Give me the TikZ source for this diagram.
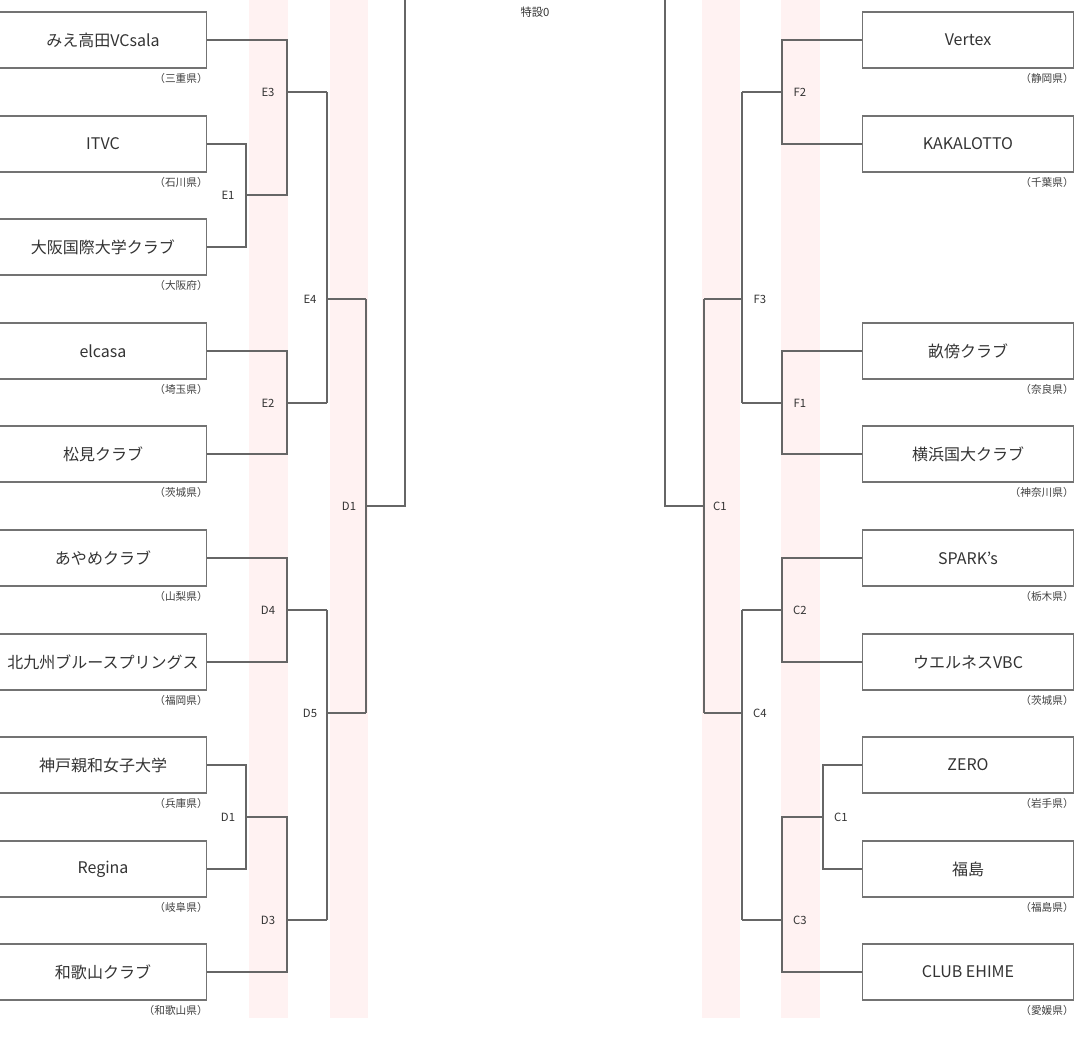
\documentclass[tikz,border=0pt]{standalone}
\usepackage{fontspec}
\setmainfont{Noto Sans CJK JP}
\begin{document}
\begin{tikzpicture}[x=0.75pt,y=-0.75pt,
 team/.style={draw=black!55,line width=0.8pt,minimum width=207*0.75pt,minimum height=56*0.75pt,inner sep=0pt,font=\fontsize{12}{14}\selectfont,text=black!80},
 pref/.style={font=\fontsize{8}{9}\selectfont,text=black!75,anchor=east,inner sep=0pt},
 lab/.style={font=\fontsize{8.5}{10}\selectfont,text=black!80,inner sep=0pt},
 br/.style={draw=black!60,line width=1.4pt}]
\useasboundingbox (0,0) rectangle (1075,1058);
\fill[red!5] (249,0) rectangle (288,1018);
\fill[red!5] (330,0) rectangle (368,1018);
\fill[red!5] (702,0) rectangle (740,1018);
\fill[red!5] (781,0) rectangle (820,1018);
\node[lab] (toku) at (535,12) {特設0};
% left teams
\foreach \n/\y/\t/\p in {L1/40/みえ高田VCsala/（三重県）,L2/144/ITVC/（石川県）,L3/247/大阪国際大学クラブ/（大阪府）,L4/351/elcasa/（埼玉県）,L5/454/松見クラブ/（茨城県）,L6/558/あやめクラブ/（山梨県）,L7/662/北九州ブルースプリングス/（福岡県）,L8/765/神戸親和女子大学/（兵庫県）,L9/869/Regina/（岐阜県）,L10/972/和歌山クラブ/（和歌山県）}{
 \node[team] (\n) at (103,\y) {\t};
 \node[pref] (\n p) at (208,\y+38) {\p};
}
\foreach \n/\y/\t/\p in {R1/40/Vertex/（静岡県）,R2/144/KAKALOTTO/（千葉県）,R3/351/畝傍クラブ/（奈良県）,R4/454/横浜国大クラブ/（神奈川県）,R5/558/SPARK's/（栃木県）,R6/662/ウエルネスVBC/（茨城県）,R7/765/ZERO/（岩手県）,R8/869/福島/（福島県）,R9/972/CLUB EHIME/（愛媛県）}{
 \node[team,minimum width=211*0.75pt] (\n) at (968,\y) {\t};
 \node[pref] (\n p) at (1074,\y+38) {\p};
}
\foreach \n/\x/\y/\t in {e3/268/92/E3,e1/228/195/E1,e2/268/403/E2,e4/310/299/E4,d4/268/610/D4,d1a/228/817/D1,d3/268/920/D3,d5/310/713/D5,d1/349/506/D1,f2/800/92/F2,f3/760/299/F3,f1/800/403/F1,c1/720/506/C1,c2/800/610/C2,c4/760/713/C4,c1a/841/817/C1,c3/800/920/C3}
 \node[lab] (\n) at (\x,\y) {\t};
% left brackets
\draw[br] (L2.east) -| (246,195) |- (L3.east);
\draw[br] (L1.east) -| (287,195) -- (246,195);
\draw[br] (287,92) -- (327,92);
\draw[br] (L4.east) -| (287,403) |- (L5.east);
\draw[br] (287,403) -- (327,403);
\draw[br] (327,92) -- (327,403);
\draw[br] (327,299) -- (366,299);
\draw[br] (L6.east) -| (287,610) |- (L7.east);
\draw[br] (287,610) -- (327,610);
\draw[br] (L8.east) -| (246,817) |- (L9.east);
\draw[br] (246,817) -- (287,817) |- (L10.east);
\draw[br] (287,920) -- (327,920);
\draw[br] (327,610) -- (327,920);
\draw[br] (327,713) -- (366,713);
\draw[br] (366,299) -- (366,713);
\draw[br] (366,506) -- (405,506) -- (405,0);
% right brackets
\draw[br] (665,0) -- (665,506) -- (704,506);
\draw[br] (704,299) -- (704,713);
\draw[br] (704,299) -- (742,299);
\draw[br] (704,713) -- (742,713);
\draw[br] (742,92) -- (742,403);
\draw[br] (742,610) -- (742,920);
\draw[br] (R1.west) -| (782,92) |- (R2.west);
\draw[br] (742,92) -- (782,92);
\draw[br] (R3.west) -| (782,403) |- (R4.west);
\draw[br] (742,403) -- (782,403);
\draw[br] (R5.west) -| (782,610) |- (R6.west);
\draw[br] (742,610) -- (782,610);
\draw[br] (R7.west) -| (823,817) |- (R8.west);
\draw[br] (823,817) -- (782,817) |- (R9.west);
\draw[br] (742,920) -- (782,920);
\end{tikzpicture}
\end{document}
